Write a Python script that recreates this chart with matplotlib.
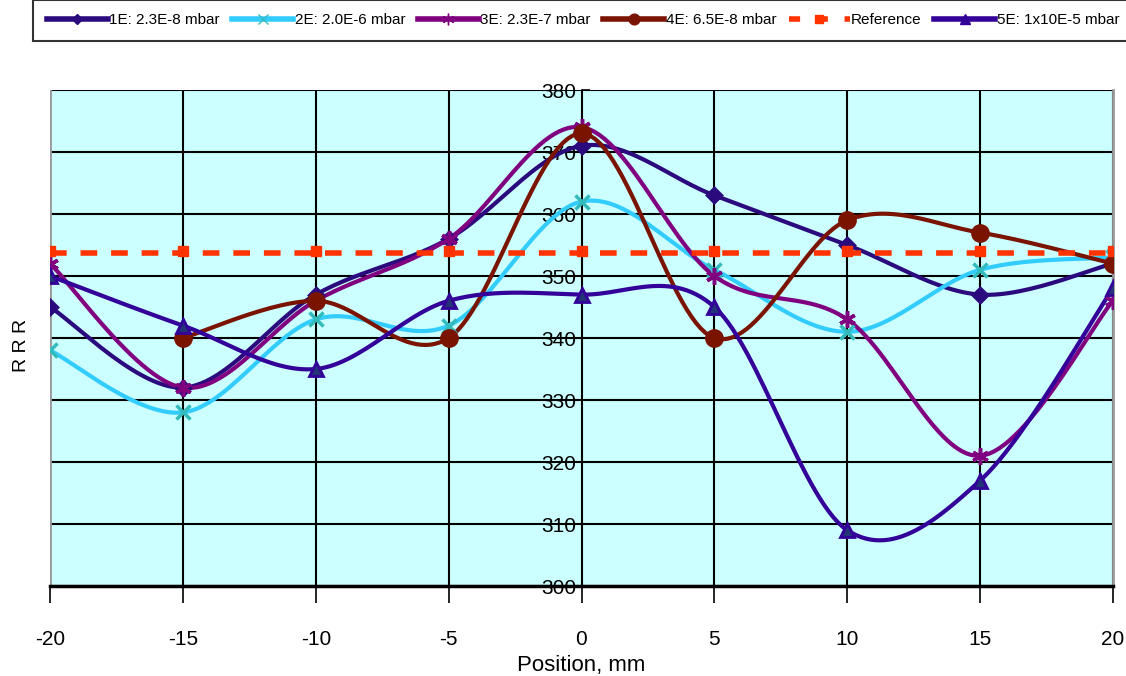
import numpy as np
import matplotlib
matplotlib.use("Agg")
import matplotlib.pyplot as plt

plt.rcParams['font.family'] = ['Liberation Sans Narrow', 'Liberation Sans', 'DejaVu Sans']
plt.rcParams['axes.unicode_minus'] = False

# data
positions = [-20, -15, -10, -5, 0, 5, 10, 15, 20]
rrr_1e = [345, 332, 347, 356, 371, 363, 355, 347, 352]
rrr_2e = [338, 328, 343, 342, 362, 351, 341, 351, 353]
rrr_3e = [352, 332, 346, 356, 374, 350, 343, 321, 346]
rrr_4e = [None, 340, 346, 340, 373, 340, 359, 357, 352]
rrr_5e = [350, 342, 335, 346, 347, 345, 309, 317, 348]
rrr_ref = [353.7] * 9

labels = ["1E: 2.3E-8 mbar", "2E: 2.0E-6 mbar", "3E: 2.3E-7 mbar",
          "4E: 6.5E-8 mbar", "Reference", "5E: 1x10E-5 mbar"]


def smooth(xs, ys, n=30):
    # Catmull-Rom curve through the points, like Excel's smoothed lines
    pts = [(x, y) for x, y in zip(xs, ys) if y is not None]
    p = np.array(pts, dtype=float)
    p = np.vstack([p[0], p, p[-1]])
    out = []
    t = np.linspace(0, 1, n)[:, None]
    for i in range(1, len(p) - 2):
        p0, p1, p2, p3 = p[i - 1], p[i], p[i + 1], p[i + 2]
        seg = 0.5 * ((2 * p1) + (-p0 + p2) * t + (2 * p0 - 5 * p1 + 4 * p2 - p3) * t ** 2
                     + (-p0 + 3 * p1 - 3 * p2 + p3) * t ** 3)
        out.append(seg)
    s = np.vstack(out)
    return s[:, 0], s[:, 1]


fig = plt.figure(figsize=(11.26, 6.76), dpi=100)
ax = fig.add_axes([50 / 1126, 90 / 676, 1063 / 1126, 496 / 676])
ax.set_facecolor('#CCFFFF')

series = [
    (rrr_1e, '#2B0A7E', 'D', '#2B0A7E', 7),
    (rrr_2e, '#33CCFF', 'x', '#33BBBB', 10),
    (rrr_3e, '#800080', (6, 2, 0), '#800080', 12),
    (rrr_4e, '#7A1400', 'o', '#7A1400', 11),
]
handles = []
for vals, col, mk, mcol, ms in series:
    sx, sy = smooth(positions, vals)
    ax.plot(sx, sy, color=col, lw=3, zorder=3)
    xp = [x for x, v in zip(positions, vals) if v is not None]
    yp = [v for v in vals if v is not None]
    ax.plot(xp, yp, ls='none', marker=mk, color=mcol, ms=ms, mew=2.5, zorder=4)
    h, = ax.plot([], [], color=col, lw=4, marker=mk, ms=ms * 0.7, mfc=mcol, mec=mcol)
    handles.append(h)

# reference line
ax.plot(positions, rrr_ref, color='#FF3300', lw=4, ls=(0, (3, 2.5)), zorder=3)
ax.plot(positions, [v + 0.3 for v in rrr_ref], ls='none', marker='s', color='#FF3300', ms=7, zorder=4)
h, = ax.plot([], [], color='#FF3300', lw=4, ls=(0, (2, 3)), marker='s', ms=6)
handles.append(h)

sx, sy = smooth(positions, rrr_5e)
ax.plot(sx, sy, color='#330099', lw=3, zorder=3)
ax.plot(positions, rrr_5e, ls='none', marker='^', color='#330099', mfc='#223377',
        ms=10, mew=2, zorder=4)
h, = ax.plot([], [], color='#330099', lw=4, marker='^', ms=7)
handles.append(h)

ax.set_xlim(-20, 20)
ax.set_ylim(300, 380)
ax.set_xticks(positions)
ax.set_yticks(range(300, 381, 10))
ax.grid(True, color='black', lw=1.5, zorder=1)
ax.set_axisbelow(True)

ax.spines['left'].set_position(('data', 0))
ax.spines['left'].set_color('black')
ax.spines['left'].set_linewidth(1.2)
ax.spines['top'].set_visible(False)
ax.spines['right'].set_color('#999999')
ax.spines['right'].set_linewidth(2)
ax.spines['bottom'].set_linewidth(2.5)
ax.axvline(-20, color='#999999', lw=2, zorder=2)

ax.tick_params(axis='x', direction='out', length=12, width=1.2, pad=20, labelsize=15)
ax.tick_params(axis='y', direction='in', length=6, width=1.2, pad=4, labelsize=15)
for lab in ax.get_yticklabels():
    lab.set_zorder(5)

ax.set_xlabel("Position, mm", fontsize=16, labelpad=4)
fig.text(22 / 1126, 1 - 345 / 676, "R R R", rotation=90, fontsize=14,
         ha='center', va='center')

leg = fig.legend(handles, labels, loc='lower left', ncol=6, mode='expand',
                 bbox_to_anchor=(33 / 1126, 1 - 41 / 676, 1100 / 1126, 38 / 676),
                 fontsize=11, handlelength=4, handletextpad=0.1, frameon=True,
                 fancybox=False, edgecolor='black', borderaxespad=0, borderpad=0.9)
leg.get_frame().set_linewidth(1.5)

fig.savefig("out.png", dpi=100)
